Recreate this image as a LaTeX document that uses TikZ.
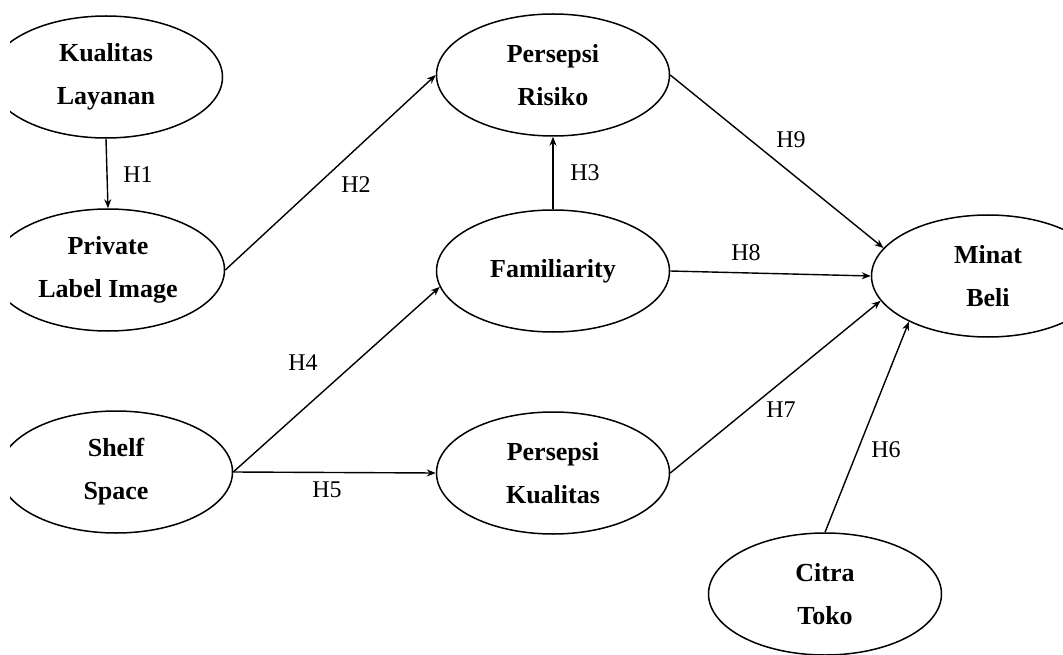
\documentclass[tikz,border=0pt]{standalone}
\usepackage{fontspec}
\setmainfont{Liberation Serif}
\usetikzlibrary{shapes.geometric,arrows.meta}
\tikzset{
  var/.style={ellipse, draw, line width=1.5pt, minimum width=233pt, minimum height=122pt,
    inner sep=0pt, align=center, font=\fontsize{26}{43}\selectfont\bfseries},
  path/.style={draw, line width=1.4pt, -{Stealth[length=9pt,width=7pt]}},
  hyp/.style={font=\fontsize{24}{28}\selectfont, inner sep=0pt}
}
\begin{document}
\begin{tikzpicture}[x=1pt,y=-1pt]
\useasboundingbox (0,0) rectangle (1063,655);
\clip (10,0) rectangle (1063,655);
\node[var] (kl) at (106,77) {Kualitas\\Layanan};
\node[var] (pli) at (108,270) {Private\\Label Image};
\node[var] (ss) at (116,472) {Shelf\\Space};
\node[var] (pr) at (553,75) {Persepsi\\Risiko};
\node[var] (fam) at (553,271) {Familiarity};
\node[var] (pk) at (553,473) {Persepsi\\Kualitas};
\node[var] (mb) at (988,276) {Minat\\Beli};
\node[var] (ct) at (825,594) {Citra\\Toko};

\draw[path] (kl.south) -- (pli.north);
\draw[path] (pli.east) -- (pr.west);
\draw[path] (fam.north) -- (pr.south);
\draw[path] (ss.east) -- (fam.188);
\draw[path] (ss.east) -- (pk.west);
\draw[path] (ct.north) -- (mb.210);
\draw[path] (pk.east) -- (mb.193);
\draw[path] (fam.east) -- (mb.west);
\draw[path] (pr.east) -- (mb.165);

\node[hyp] (h1) at (138,175) {H1};
\node[hyp] (h2) at (356,185) {H2};
\node[hyp] (h3) at (585,173) {H3};
\node[hyp] (h4) at (303,363) {H4};
\node[hyp] (h5) at (327,490) {H5};
\node[hyp] (h6) at (886,450) {H6};
\node[hyp] (h7) at (781,410) {H7};
\node[hyp] (h8) at (746,253) {H8};
\node[hyp] (h9) at (791,140) {H9};
\end{tikzpicture}
\end{document}
